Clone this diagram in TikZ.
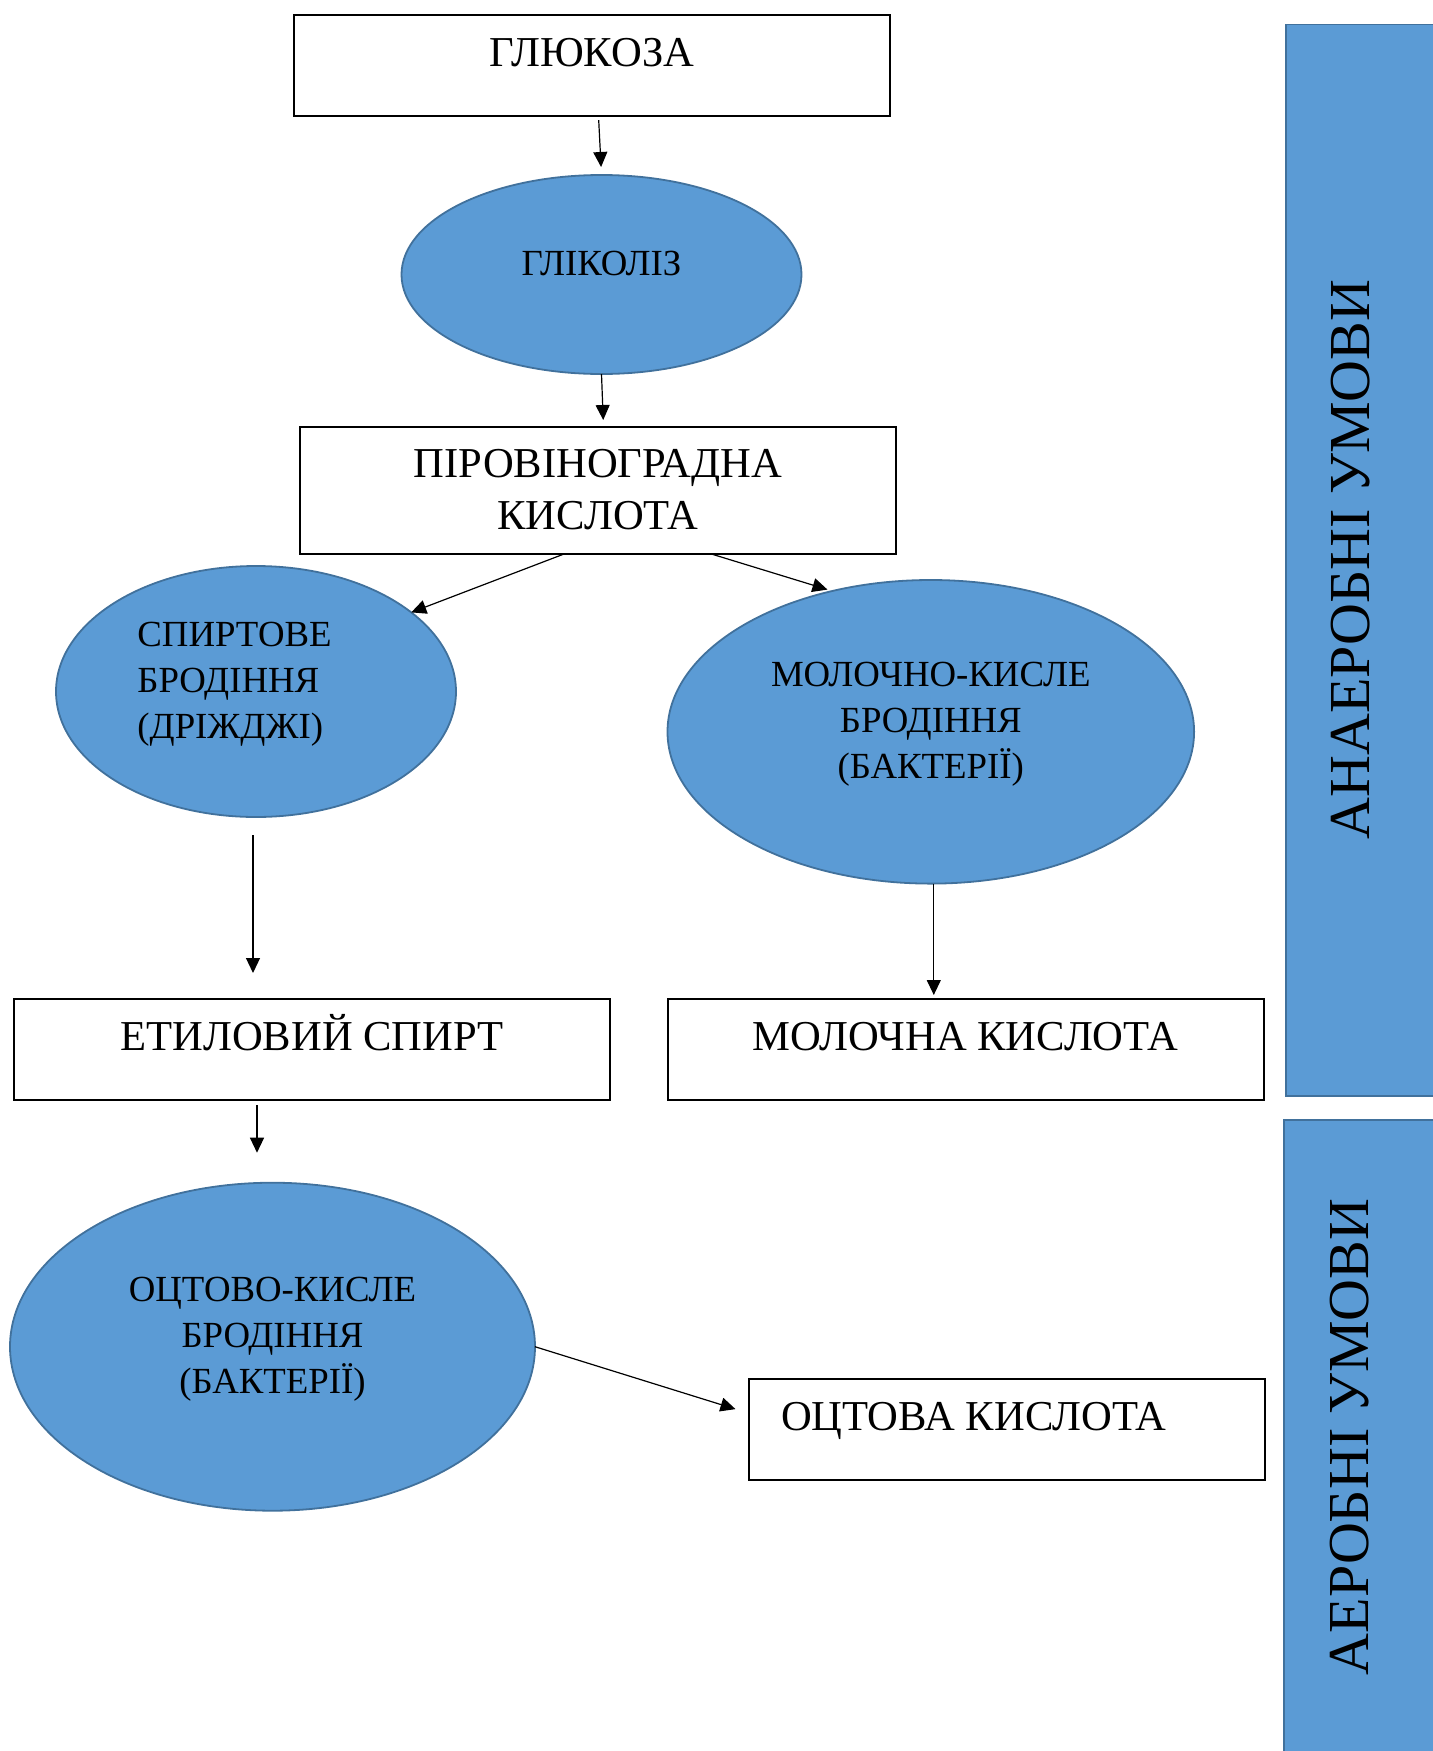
\documentclass[tikz,border=0pt]{standalone}
\usepackage{fontspec}
\setmainfont{Liberation Serif}
\usetikzlibrary{shapes.geometric, arrows.meta}
\definecolor{ellfill}{HTML}{5B9BD5}
\definecolor{ellline}{HTML}{41719C}
\newcommand\boxsize{\fontsize{21.3pt}{26pt}\selectfont}
\newcommand\ellsize{\fontsize{18.4pt}{23pt}\selectfont}
\newcommand\barsize{\fontsize{29pt}{34pt}\selectfont}
\begin{document}
\begin{tikzpicture}[x=0.5pt, y=-0.5pt,
  box/.style={draw, line width=1pt, inner sep=0pt, outer sep=0pt, minimum width=298pt,
    text height=25.8pt, text depth=24.8pt, anchor=north west, font=\boxsize},
  ell/.style={ellipse, draw=ellline, fill=ellfill, line width=0.9pt, inner sep=0pt, outer sep=0pt,
    text height=0pt, text depth=0pt, font=\ellsize},
  bar/.style={fill=ellfill, draw=ellline, line width=0.8pt},
  bartext/.style={font=\barsize, rotate=90, inner sep=0pt},
  arr/.style={-{Triangle[length=7.5pt,width=7pt]}, line width=0.6pt}]
\useasboundingbox (0,0) rectangle (1432,1751);
% side bars
\path[bar] (1286,24.5) rectangle (1445,1096);
\path[bar] (1284,1120) rectangle (1445,1760);
\node[bartext] (anaer) at (1351,559.5) {АНАЕРОБНІ УМОВИ};
\node[bartext] (aer) at (1350,1437) {АЕРОБНІ УМОВИ};
% boxes
\node[box] (gluc) at (294,15) {ГЛЮКОЗА};
\node[box, text height=25.3pt, text depth=38.2pt] (pyr) at (300,427)
  {\begin{tabular}[t]{@{}c@{}}ПІРОВІНОГРАДНА\\КИСЛОТА\end{tabular}};
\node[box] (eth) at (14,999) {ЕТИЛОВИЙ СПИРТ};
\node[box] (milk) at (667.5,999) {МОЛОЧНА КИСЛОТА};
\node[box, minimum width=258pt] (acet) at (749,1379) {\makebox[226pt][l]{ОЦТОВА КИСЛОТА}};
% ellipses
\node[ell, minimum width=200pt, minimum height=99.5pt] (glyc) at (601.5,274.5)
  {\begin{tabular}{c}ГЛІКОЛІЗ\end{tabular}};
\node[ell, minimum width=200pt, minimum height=125.5pt] (spirit) at (256,691.5)
  {\begin{tabular}{@{}l@{\hspace{21.5pt}}}СПИРТОВЕ\\БРОДІННЯ\\(ДРІЖДЖІ)\end{tabular}};
\node[ell, minimum width=263.3pt, minimum height=151.8pt] (lactic) at (930.8,731.8)
  {\begin{tabular}{c}МОЛОЧНО-КИСЛЕ\\БРОДІННЯ\\(БАКТЕРІЇ)\end{tabular}};
\node[ell, minimum width=262.5pt, minimum height=164pt] (acetferm) at (272.5,1346.7)
  {\begin{tabular}{c}ОЦТОВО-КИСЛЕ\\БРОДІННЯ\\(БАКТЕРІЇ)\end{tabular}};
% arrows
\draw[arr, shorten <=2pt, shorten >=4pt] ([xshift=-1.5pt]glyc.north |- gluc.south) -- (glyc.north);
\draw[arr, shorten >=3.5pt] (glyc.south) -- ([xshift=1pt]glyc.south |- pyr.north);
\draw[arr] ([xshift=-17pt]pyr.south) -- (spirit.27);
\draw[arr, shorten >=2.5pt] ([xshift=56.7pt]pyr.south) -- (lactic.125);
\draw[arr, shorten <=9pt, shorten >=13pt] ([xshift=-1.5pt]spirit.south) -- ([xshift=-1.5pt]spirit.south |- eth.north);
\draw[arr, shorten >=2pt] ([xshift=1.5pt]lactic.south) -- ([xshift=1.5pt]lactic.south |- milk.north);
\draw[arr, shorten <=2.5pt, shorten >=15pt] ([xshift=-27.5pt]eth.south) -- ([xshift=-27.5pt]eth.south |- acetferm.north);
\draw[arr] (acetferm.east) -- ([xshift=-6.75pt, yshift=10.25pt]acet.west);
\end{tikzpicture}
\end{document}
